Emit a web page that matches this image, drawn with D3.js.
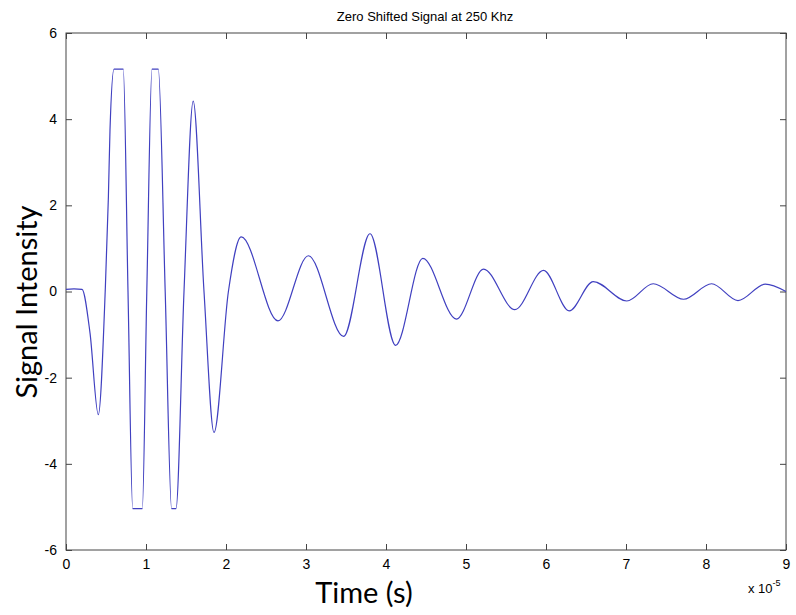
<!DOCTYPE html>
<html>
<head>
<meta charset="utf-8">
<script src="https://cdn.jsdelivr.net/npm/d3@7"></script>
<style>
  body { margin: 0; background: #fff; }
  .tick text { font-family: "Liberation Sans", Arial, sans-serif; font-size: 14px; fill: #000; }
</style>
</head>
<body>
<div id="chart"></div>
<script>
// time in units of 1e-5 s
const time = [0, 0.10, 0.20, 0.30, 0.404, 0.49, 0.53, 0.55, 0.60, 0.716, 0.775, 0.834, 0.954,
  1.01, 1.075, 1.154, 1.24, 1.32, 1.375, 1.475, 1.59, 1.725, 1.85, 2.03, 2.19, 2.65, 3.03,
  3.47, 3.80, 4.12, 4.46, 4.88, 5.22, 5.61, 5.97, 6.29, 6.59, 7.01, 7.34, 7.72, 8.07, 8.40,
  8.74, 9.0];
const signal = [0.05, 0.06, 0.05, -0.96, -2.86, 0, 2.2, 3.75, 5.16, 5.16, 0, -5.04, -5.04,
  0, 5.16, 5.16, 0, -5.04, -5.04, 0, 4.42, 0, -3.27, 0, 1.27, -0.68, 0.83,
  -1.04, 1.34, -1.25, 0.77, -0.64, 0.52, -0.42, 0.49, -0.45, 0.23, -0.22, 0.18, -0.18, 0.18, -0.21,
  0.17, 0.0];
const xTicks = [0, 1, 2, 3, 4, 5, 6, 7, 8, 9];
const yTicks = [-6, -4, -2, 0, 2, 4, 6];

const margin = {top: 33, right: 10, bottom: 65, left: 66};
const width = 796 - margin.left - margin.right;
const height = 615 - margin.top - margin.bottom;

const x = d3.scaleLinear().domain([0, 9]).range([0, width]);
const y = d3.scaleLinear().domain([-6, 6]).range([height, 0]);

const data = time.map((t, i) => ({t, v: signal[i]}));
const plain = d => String(d); // hyphen minus like the original

const svg = d3
  .select('#chart')
  .append('svg')
  .attr('width', 796)
  .attr('height', 615);

const g = svg.append('g').attr('transform', `translate(${margin.left},${margin.top})`);

// box
g.append('rect')
  .attr('width', width)
  .attr('height', height)
  .attr('fill', 'none')
  .attr('stroke', '#444')
  .attr('stroke-width', 1);

const tickLen = 6;
const styleAxis = sel => {
  sel.select('.domain').remove();
  sel.selectAll('.tick line').attr('stroke', '#444');
};

g.append('g')
  .attr('transform', `translate(0,${height})`)
  .call(d3.axisBottom(x).tickValues(xTicks).tickSizeInner(-tickLen).tickPadding(tickLen + 3).tickFormat(plain))
  .call(styleAxis);

g.append('g')
  .call(d3.axisTop(x).tickValues(xTicks).tickSizeInner(-tickLen).tickFormat(''))
  .call(styleAxis);

g.append('g')
  .call(d3.axisLeft(y).tickValues(yTicks).tickSizeInner(-tickLen).tickPadding(tickLen + 3).tickFormat(plain))
  .call(styleAxis);

g.append('g')
  .attr('transform', `translate(${width},0)`)
  .call(d3.axisRight(y).tickValues(yTicks).tickSizeInner(-tickLen).tickFormat(''))
  .call(styleAxis);

const line = d3
  .line()
  .x(d => x(d.t))
  .y(d => y(d.v))
  .curve(d3.curveMonotoneX);

g.append('path')
  .datum(data)
  .attr('fill', 'none')
  .attr('stroke', '#4040c0')
  .attr('stroke-width', 1.2)
  .attr('d', line);

// title and labels
svg.append('text')
  .attr('x', 425)
  .attr('y', 21)
  .attr('text-anchor', 'middle')
  .style('font-family', '"Liberation Sans", Arial, sans-serif')
  .style('font-size', '13px')
  .text('Zero Shifted Signal at 250 Khz');

svg.append('text')
  .attr('transform', 'translate(37,302) rotate(-90)')
  .attr('text-anchor', 'middle')
  .style('font-family', 'Lato, sans-serif')
  .style('font-size', '29px')
  .text('Signal Intensity');

svg.append('text')
  .attr('x', 364)
  .attr('y', 603)
  .attr('text-anchor', 'middle')
  .style('font-family', 'Lato, sans-serif')
  .style('font-size', '29px')
  .text('Time (s)');

const exp = svg.append('text')
  .attr('x', 748)
  .attr('y', 593)
  .style('font-family', '"Liberation Sans", Arial, sans-serif')
  .style('font-size', '13px');
exp.append('tspan').text('x 10');
exp.append('tspan').attr('dy', -7).style('font-size', '9px').text('-5');
</script>
</body>
</html>
